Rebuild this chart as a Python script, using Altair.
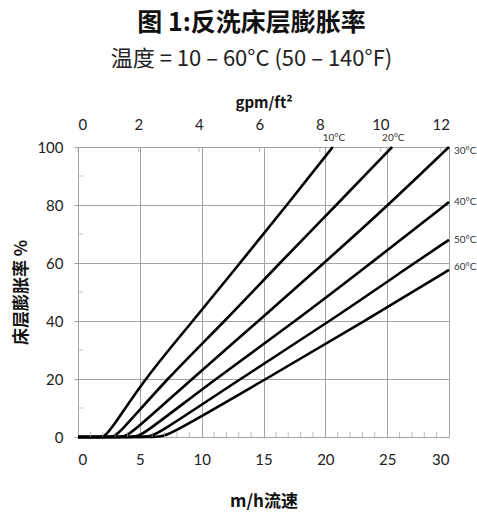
import altair as alt
import pandas as pd

# ---- data ----
series = ["10°C", "20°C", "30°C", "40°C", "50°C", "60°C"]
mh_10 = [0, 1.9, 2.3, 5.35, 9.3, 13.1, 16.9, 20.6]
pct_10 = [0, 0, 0, 20, 40, 60, 80, 100]
mh_20 = [0, 2.7, 3.1, 7.15, 11.9, 16.3, 20.9, 25.4]
pct_20 = [0, 0, 0, 20, 40, 60, 80, 100]
mh_30 = [0, 3.6, 4.0, 9.2, 14.6, 19.9, 25.1, 30]
pct_30 = [0, 0, 0, 20, 40, 60, 80, 100]
mh_40 = [0, 4.6, 5.0, 11.1, 17.6, 23.7, 30]
pct_40 = [0, 0, 0, 20, 40, 60, 81]
mh_50 = [0, 5.6, 6.1, 13.1, 20.4, 27.2, 30]
pct_50 = [0, 0, 0, 20, 40, 60, 68]
mh_60 = [0, 6.6, 7.1, 15.2, 23.2, 30]
pct_60 = [0, 0, 0, 20, 40, 57.6]

top_labels = ["10°C", "20°C"]
top_label_mh = [20.6, 25.4]
top_label_pct = [100, 100]
right_labels = ["30°C", "40°C", "50°C", "60°C"]
right_label_mh = [30, 30, 30, 30]
right_label_pct = [98.5, 81, 68, 58.5]

x_ticks = [0, 5, 10, 15, 20, 25, 30]
x_minor = [1, 2, 3, 4, 6, 7, 8, 9, 11, 12, 13, 14, 16, 17, 18, 19,
           21, 22, 23, 24, 26, 27, 28, 29]
y_ticks = [0, 20, 40, 60, 80, 100]
y_minor = [10, 30, 50, 70, 90]
gpm_ticks = [0, 2, 4, 6, 8, 10, 12]
GPM_MAX = 30 / 2.4448  # 30 m/h expressed in gpm/ft²

# ---- tables ----
rows = []
for name, xs, ys in zip(series, [mh_10, mh_20, mh_30, mh_40, mh_50, mh_60],
                        [pct_10, pct_20, pct_30, pct_40, pct_50, pct_60]):
    for i, (a, b) in enumerate(zip(xs, ys)):
        rows.append({"series": name, "mh": a, "pct": b, "order": i})
curves_df = pd.DataFrame(rows)
top_df = pd.DataFrame({"t": top_labels, "mh": top_label_mh, "pct": top_label_pct})
right_df = pd.DataFrame({"t": right_labels, "mh": right_label_mh, "pct": right_label_pct})
xminor_df = pd.DataFrame({"mh": x_minor, "pct": [0] * len(x_minor)})
yminor_df = pd.DataFrame({"mh": [0] * len(y_minor), "pct": y_minor})
gpm_df = pd.DataFrame({"gpm": gpm_ticks, "pct": [100] * len(gpm_ticks)})

GRAY = "#a3a3a3"
NUM_FONT = "Lato"
CJK = "Noto Sans CJK SC"

xscale = alt.Scale(domain=[0, 30], nice=False, zero=False)
yscale = alt.Scale(domain=[0, 100], nice=False)
yaxis = alt.Axis(values=y_ticks, title="床层膨胀率 %", grid=True, gridColor=GRAY,
                 domainColor=GRAY, tickColor=GRAY, tickSize=4, labelPadding=11,
                 labelFont=NUM_FONT, labelFontSize=15, labelColor="#222",
                 titleFont=CJK, titleFontSize=17, titleFontWeight="bold",
                 titleColor="#111", titlePadding=6)


def Y():
    return alt.Y("pct:Q", scale=yscale, axis=yaxis)


curves = alt.Chart(curves_df).mark_line(
    color="black", strokeWidth=2.6, interpolate="basis"
).encode(
    x=alt.X("mh:Q", scale=xscale,
            axis=alt.Axis(values=x_ticks, title="m/h流速", grid=True, gridColor=GRAY,
                          domainColor=GRAY, ticks=False, labelPadding=15,
                          labelFont=NUM_FONT, labelFontSize=15, labelColor="#222",
                          titleFont=CJK, titleFontSize=17, titleFontWeight="bold",
                          titleColor="#111", titlePadding=26)),
    y=Y(),
    detail="series:N",
    order="order:Q",
)

xminor = alt.Chart(xminor_df).mark_tick(
    orient="vertical", size=5, thickness=1, color=GRAY, yOffset=-2.5
).encode(x=alt.X("mh:Q", scale=xscale, axis=None), y=Y())

yminor = alt.Chart(yminor_df).mark_tick(
    orient="horizontal", size=5, thickness=1, color=GRAY, xOffset=2.5
).encode(x=alt.X("mh:Q", scale=xscale, axis=None), y=Y())

top_text = alt.Chart(top_df).mark_text(
    align="left", baseline="bottom", dx=-10, dy=-4, font=NUM_FONT, fontSize=10, color="#333"
).encode(x=alt.X("mh:Q", scale=xscale, axis=None), y=Y(), text="t:N")

right_text = alt.Chart(right_df).mark_text(
    align="left", baseline="middle", dx=5, font=NUM_FONT, fontSize=10, color="#333"
).encode(x=alt.X("mh:Q", scale=xscale, axis=None), y=Y(), text="t:N")

gpm = alt.Chart(gpm_df).mark_tick(
    orient="vertical", size=5, thickness=1, color=GRAY, yOffset=2.5
).encode(
    x=alt.X("gpm:Q", scale=alt.Scale(domain=[0, GPM_MAX], nice=False, zero=False),
            axis=alt.Axis(orient="top", values=gpm_ticks, title="gpm/ft²", grid=False,
                          ticks=False, domainColor=GRAY, labelPadding=15,
                          labelFont=NUM_FONT, labelFontSize=15, labelColor="#222",
                          titleFont=CJK, titleFontSize=15, titleFontWeight="bold",
                          titleColor="#111", titlePadding=7)),
    y=Y(),
)

chart = alt.layer(curves, xminor, yminor, top_text, right_text, gpm).resolve_scale(
    x="independent"
).properties(
    width=371,
    height=290,
    autosize=alt.AutoSizeParams(type="none"),
    padding={"left": 78, "top": 147, "right": 28, "bottom": 79},
    title=alt.TitleParams(
        text="图 1:反洗床层膨胀率",
        subtitle="温度 = 10 – 60°C (50 – 140°F)",
        font=CJK, fontSize=25, fontWeight="bold", color="#111",
        subtitleFont=CJK, subtitleFontSize=22, subtitleColor="#222",
        subtitlePadding=13, anchor="middle", dx=-12, offset=25,
    ),
).configure_view(stroke=None).configure(background="white")

chart.save("out.html", embed_options={"renderer": "svg", "actions": False})
